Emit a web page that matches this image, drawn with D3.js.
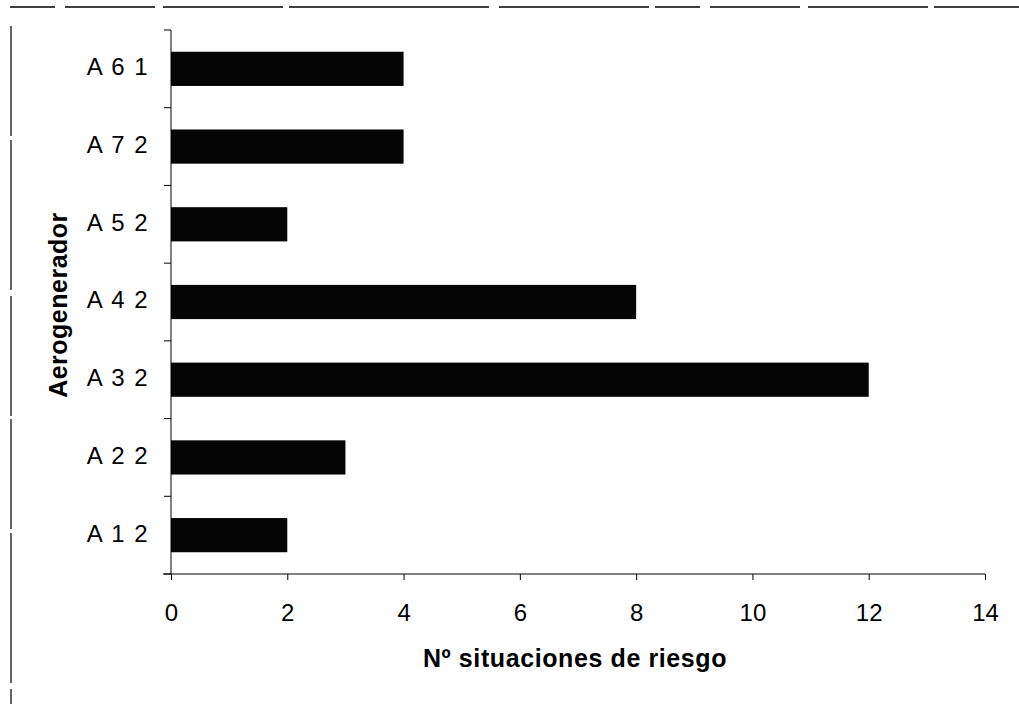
<!DOCTYPE html>
<html><head><meta charset="utf-8">
<script src="https://cdn.jsdelivr.net/npm/d3@7"></script>
<style>body{margin:0;background:#fff}svg{display:block}text{font-family:"Liberation Sans",Arial,sans-serif}</style>
</head><body><svg id="c" width="1019" height="704"></svg>
<script>
const categories = ["A 6 1","A 7 2","A 5 2","A 4 2","A 3 2","A 2 2","A 1 2"];
const values = [4,4,2,8,12,3,2];
const xTicks = [0,2,4,6,8,10,12,14];
const xTitle = "Nº situaciones de riesgo";
const yTitle = "Aerogenerador";

const svg = d3.select("#c");
const m = {left:171, right:985, top:30, bottom:574};
const x = d3.scaleLinear().domain([0,14]).range([m.left, m.right]);
const y = d3.scaleBand().domain(categories).range([m.top, m.bottom]).paddingInner(0.56).paddingOuter(0.28);

// scanned frame lines
svg.append("line").attr("x1",10).attr("x2",1019).attr("y1",7).attr("y2",7)
  .attr("stroke","#000").attr("stroke-width",1.5).attr("stroke-dasharray","45,10,90,8,120,6,200,10,150,6");
svg.append("line").attr("x1",11).attr("x2",11).attr("y1",26).attr("y2",704)
  .attr("stroke","#000").attr("stroke-width",1.2).attr("stroke-dasharray","110,4,150,6,120,3");

// bars
svg.append("g").selectAll("rect").data(categories).join("rect")
  .attr("x", x(0)).attr("y", d => y(d))
  .attr("width", (d,i) => x(values[i]) - x(0))
  .attr("height", y.bandwidth())
  .attr("fill","#050505");

// x axis
const xa = svg.append("g").attr("transform",`translate(0,${m.bottom})`)
  .call(d3.axisBottom(x).tickValues(xTicks).tickSize(6).tickSizeOuter(0).tickPadding(24));
xa.select(".domain").remove();
xa.append("line").attr("x1",163).attr("x2",m.right).attr("stroke","#000").attr("stroke-width",1);
xa.selectAll("text").attr("font-size",24).attr("fill","#000");

// y axis
const ya = svg.append("g").attr("transform",`translate(${m.left},0)`);
ya.append("line").attr("y1",m.top).attr("y2",m.bottom).attr("stroke","#000");
const bounds = d3.range(categories.length+1).map(i => m.top + i*(m.bottom-m.top)/categories.length);
ya.selectAll(".tk").data(bounds).join("line").attr("class","tk")
  .attr("x1",-7).attr("x2",0).attr("y1",d=>d).attr("y2",d=>d).attr("stroke","#000");
ya.selectAll(".lb").data(categories).join("text").attr("class","lb")
  .attr("x",-22).attr("y",d => y(d)+y.bandwidth()/2 - 2).attr("dy","0.35em")
  .attr("text-anchor","end").attr("font-size",24).attr("letter-spacing",1.5).text(d=>d);

svg.append("text").attr("x",575).attr("y",667).attr("text-anchor","middle")
  .attr("font-size",25).attr("font-weight","bold").attr("letter-spacing",0.6).text(xTitle);
svg.append("text").attr("transform",`translate(67,305) rotate(-90)`).attr("text-anchor","middle")
  .attr("font-size",25).attr("font-weight","bold").attr("letter-spacing",0.5).text(yTitle);
</script></body></html>
